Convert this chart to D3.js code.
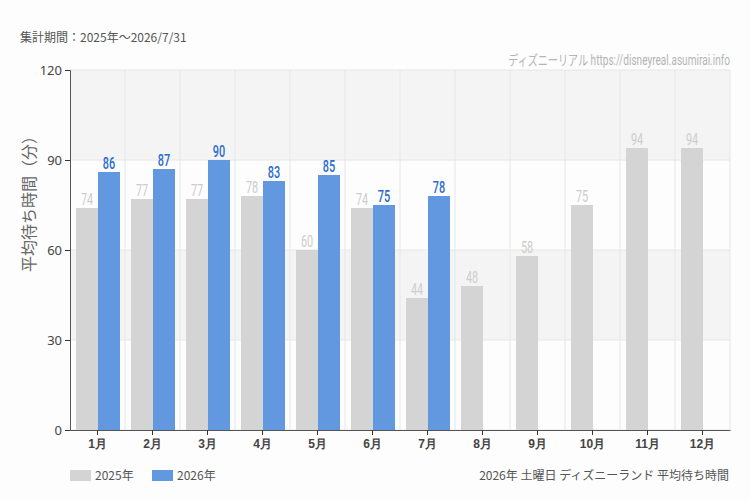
<!DOCTYPE html>
<html><head><meta charset="utf-8">
<script src="https://cdn.jsdelivr.net/npm/d3@7"></script>
<style>
body{margin:0;background:#fcfdfc;}
svg{display:block;font-family:"Noto Sans CJK JP","Noto Sans",sans-serif;}
.cond{font-family:"Roboto","Noto Sans CJK JP",sans-serif;}
</style></head>
<body>
<svg id="c" width="750" height="500"></svg>
<script>
const months = ["1月","2月","3月","4月","5月","6月","7月","8月","9月","10月","11月","12月"];
const seriesNames = ["2025年","2026年"];
const values2025 = [74,77,77,78,60,74,44,48,58,75,94,94];
const values2026 = [86,87,90,83,85,75,78,null,null,null,null,null];
const yTicks = [0,30,60,90,120];
const colors = ["#d4d4d4","#6198e0"];
const labelColors = ["#cdcdcd","#2a6ad0"];

const svg = d3.select("#c");
const m = {l:70, r:730, t:70, b:430};
const x = d3.scaleBand().domain(months).range([m.l, m.r]).paddingInner(0).paddingOuter(0);
const xs = d3.scaleBand().domain([0,1]).range([6, x.bandwidth()-5]);
const y = d3.scaleLinear().domain([0,120]).range([m.b, m.t]);

for (let i=0;i<yTicks.length-1;i++){
  svg.append("rect").attr("x",m.l).attr("width",m.r-m.l)
    .attr("y",y(yTicks[i+1])).attr("height",y(yTicks[i])-y(yTicks[i+1]))
    .attr("fill", i%2===1 ? "#f4f4f4" : "#fcfdfc");
}
yTicks.forEach(t=>{
  svg.append("line").attr("x1",m.l).attr("x2",m.r).attr("y1",y(t)).attr("y2",y(t))
    .attr("stroke","#e6e6e6");
});
months.forEach((mo,i)=>{
  const xx = x(mo)+x.bandwidth();
  svg.append("line").attr("x1",xx).attr("x2",xx).attr("y1",m.t).attr("y2",m.b).attr("stroke","#e6e6e6");
});

[values2025, values2026].forEach((vals,s)=>{
  const g = svg.append("g");
  vals.forEach((v,i)=>{
    if (v==null) return;
    const bx = x(months[i]) + xs(s);
    g.append("rect").attr("x",bx).attr("width",xs.bandwidth())
      .attr("y",y(v)).attr("height",y(0)-y(v)).attr("fill",colors[s]);
    g.append("text").attr("class","cond")
      .attr("transform",`translate(${bx+xs.bandwidth()/2},${y(v)-3}) scale(0.68,1)`)
      .attr("text-anchor","middle").attr("font-size",16).attr("fill",labelColors[s])
      .attr("font-weight", s===1?"500":"normal").text(v);
  });
});

const ya = svg.append("g").attr("transform",`translate(${m.l},0)`)
  .call(d3.axisLeft(y).tickValues(yTicks).tickSize(5).tickPadding(3));
ya.select(".domain").attr("stroke","#555");
ya.selectAll(".tick line").attr("stroke","#333");
ya.selectAll("text").attr("font-size",13).attr("fill","#444").attr("font-family","'Noto Sans',sans-serif");

const xa = svg.append("g").attr("transform",`translate(0,${m.b})`)
  .call(d3.axisBottom(x).tickSize(5).tickSizeOuter(0).tickPadding(4));
xa.select(".domain").attr("stroke","#555");
xa.selectAll(".tick line").attr("stroke","#333");
xa.selectAll("text").attr("font-size",12).attr("fill","#444").attr("font-weight","bold");

svg.append("text").attr("x",20).attr("y",42).attr("font-size",12).attr("fill","#555")
  .text("集計期間：2025年～2026/7/31");
svg.append("text").attr("class","cond")
  .attr("transform","translate(730,65) scale(0.72,1)").attr("text-anchor","end")
  .attr("font-size",14).attr("fill","#b4b4b4").text("ディズニーリアル https://disneyreal.asumirai.info");
svg.append("text").attr("transform","translate(35,200) rotate(-90)").attr("text-anchor","middle")
  .attr("font-size",16).attr("fill","#666").text("平均待ち時間（分）");

const lx = [70,152];
seriesNames.forEach((n,i)=>{
  svg.append("rect").attr("x",lx[i]).attr("y",470).attr("width",21).attr("height",11).attr("fill",colors[i]);
  svg.append("text").attr("x",lx[i]+25).attr("y",480).attr("font-size",12).attr("fill","#555").text(n);
});
svg.append("text").attr("x",729).attr("y",480).attr("text-anchor","end").attr("font-size",12)
  .attr("fill","#555").text("2026年 土曜日 ディズニーランド 平均待ち時間");
</script>
</body></html>
